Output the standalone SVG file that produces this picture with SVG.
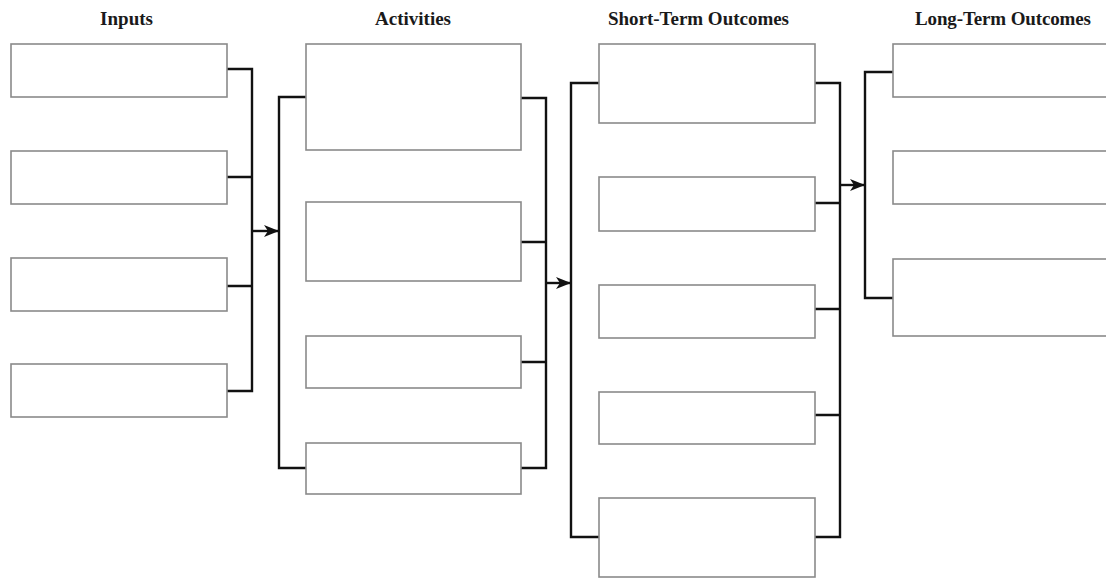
<svg xmlns="http://www.w3.org/2000/svg" width="1106" height="579" viewBox="0 0 1106 579">
  <style>
    .title { font-family: "Liberation Serif", "Times New Roman", serif; font-weight: bold; font-size: 19px; fill: #1a1a1a; text-anchor: middle; }
    .box { fill: #ffffff; stroke: #8a8a8a; stroke-width: 1.6; }
    .conn { fill: none; stroke: #111111; stroke-width: 2.4; stroke-linejoin: miter; stroke-linecap: square; }
    .arrow { fill: none; stroke: #111111; stroke-width: 2.4; marker-end: url(#head); }
  </style>
  <defs>
    <marker id="head" viewBox="0 0 15 12" refX="15" refY="6" markerWidth="15" markerHeight="12" markerUnits="userSpaceOnUse" orient="auto">
      <path d="M0,0 L15,6 L0,12 L4,6 z" fill="#111111"/>
    </marker>
  </defs>
  <rect width="1106" height="579" fill="#ffffff"/>

  <g id="titles">
    <text class="title" x="126.5" y="25" textLength="53">Inputs</text>
    <text class="title" x="413" y="25" textLength="76">Activities</text>
    <text class="title" x="698.5" y="25" textLength="181">Short-Term Outcomes</text>
    <text class="title" x="1003" y="25" textLength="176">Long-Term Outcomes</text>
  </g>

  <g id="connectors">
    <path class="conn" d="M227,69 H252 V391 H227 M227,177 H252 M227,286 H252"/>
    <path class="arrow" d="M252,231 H279"/>
    <path class="conn" d="M306,97 H279 V468 H306"/>
    <path class="conn" d="M521,98 H546 V468 H521 M521,242 H546 M521,362 H546"/>
    <path class="arrow" d="M546,283 H571"/>
    <path class="conn" d="M599,83 H571 V537 H599"/>
    <path class="conn" d="M815,83 H840 V537 H815 M815,203 H840 M815,309 H840 M815,415 H840"/>
    <path class="arrow" d="M840,185 H865"/>
    <path class="conn" d="M893,72 H865 V298 H893"/>
  </g>

  <g id="inputs">
    <rect id="input-1" class="box" x="11" y="44" width="216" height="53"/>
    <rect id="input-2" class="box" x="11" y="151" width="216" height="53"/>
    <rect id="input-3" class="box" x="11" y="258" width="216" height="53"/>
    <rect id="input-4" class="box" x="11" y="364" width="216" height="53"/>
  </g>

  <g id="activities">
    <rect id="activity-1" class="box" x="306" y="44" width="215" height="106"/>
    <rect id="activity-2" class="box" x="306" y="202" width="215" height="79"/>
    <rect id="activity-3" class="box" x="306" y="336" width="215" height="52"/>
    <rect id="activity-4" class="box" x="306" y="443" width="215" height="51"/>
  </g>

  <g id="short-term">
    <rect id="short-1" class="box" x="599" y="44" width="216" height="79"/>
    <rect id="short-2" class="box" x="599" y="177" width="216" height="54"/>
    <rect id="short-3" class="box" x="599" y="285" width="216" height="53"/>
    <rect id="short-4" class="box" x="599" y="392" width="216" height="52"/>
    <rect id="short-5" class="box" x="599" y="498" width="216" height="79"/>
  </g>

  <g id="long-term">
    <rect id="long-1" class="box" x="893" y="44" width="220" height="53"/>
    <rect id="long-2" class="box" x="893" y="151" width="220" height="53"/>
    <rect id="long-3" class="box" x="893" y="259" width="220" height="77"/>
  </g>
</svg>
